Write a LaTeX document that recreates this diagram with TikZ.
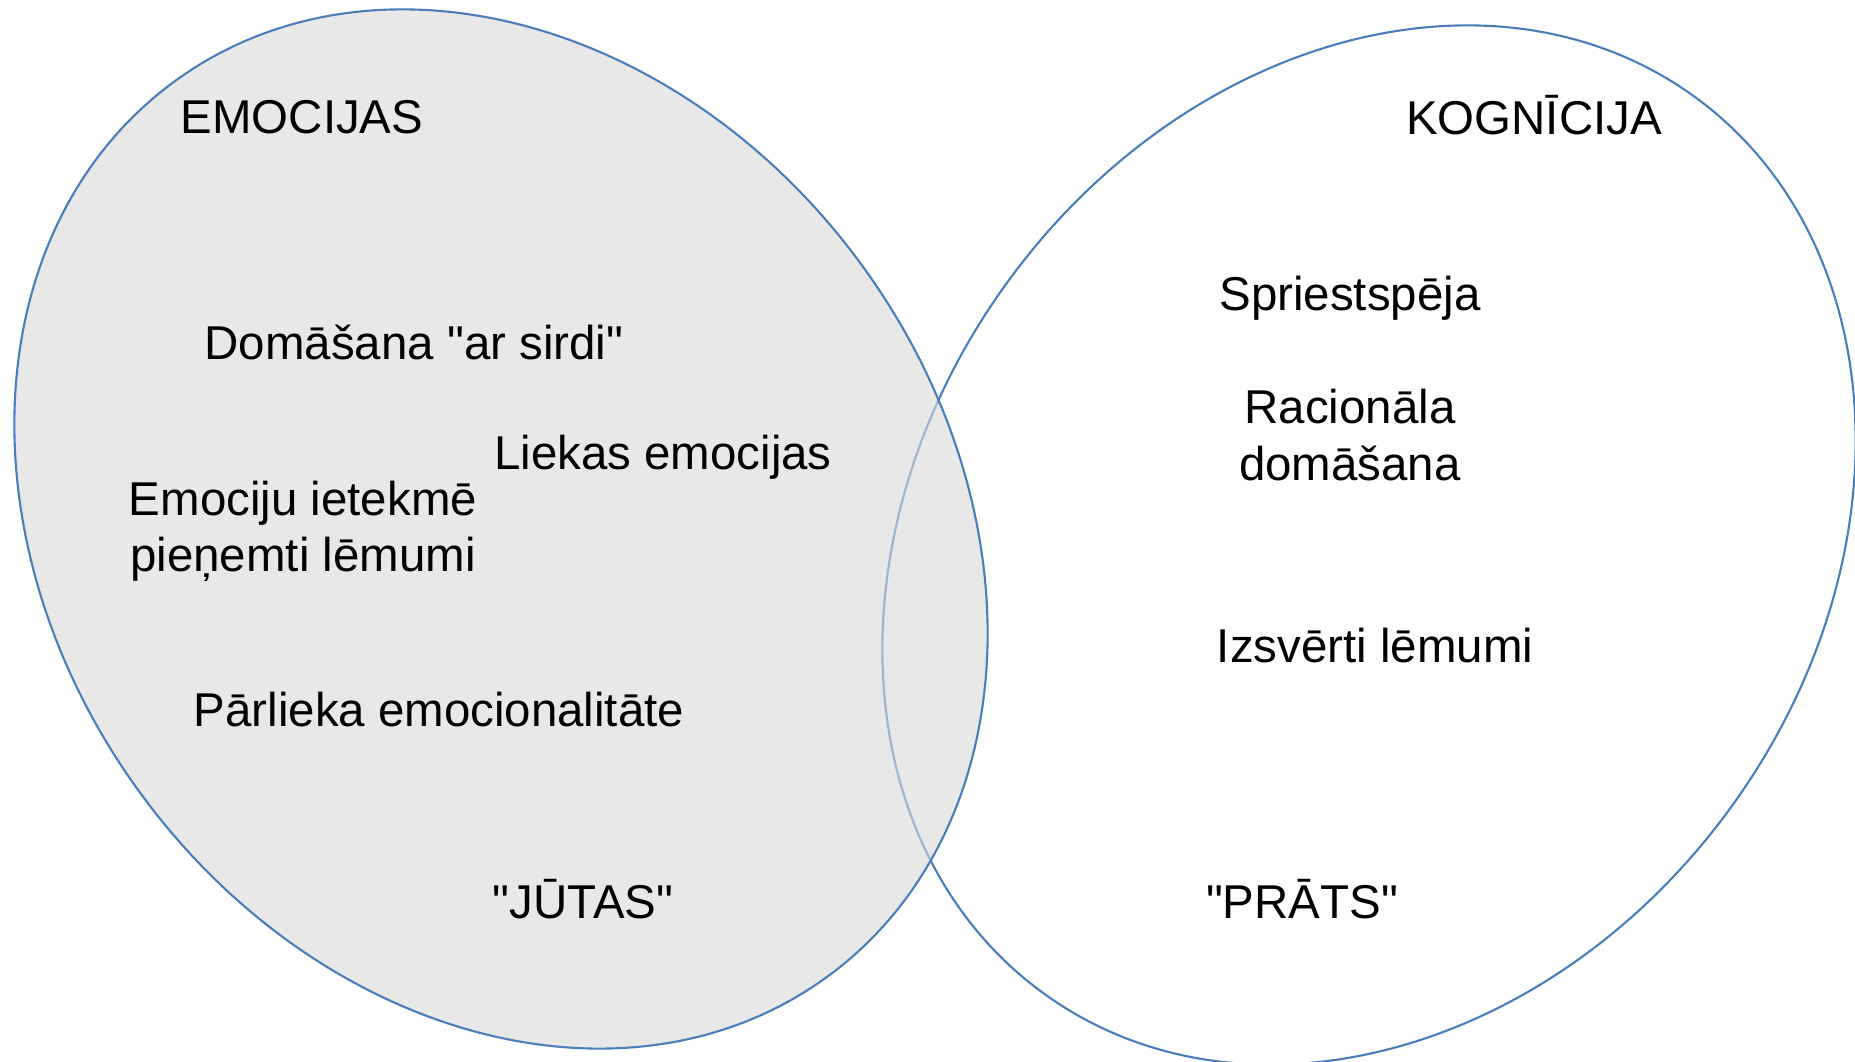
\documentclass[tikz,border=0pt]{standalone}
\usepackage{fontspec}
\setmainfont{Liberation Sans}[Ligatures=TeXOff]
\definecolor{bordo}{HTML}{4A7EBB}
\definecolor{grigio}{HTML}{D9D9D9}
\tikzset{
  voce/.style={font=\fontsize{13.5}{16}\selectfont, align=center, inner sep=0pt},
  insieme/.style={draw=bordo, line width=0.6pt}
}
\begin{document}
\begin{tikzpicture}
	\useasboundingbox (0,0) rectangle (18.55,10.62);
	\begin{scope}
	  \draw[insieme] (13.69,5.17) ellipse [x radius=5.54cm, y radius=4.47cm, rotate=54]; % prats
	  \filldraw[insieme, fill=grigio, fill opacity=0.6] (5.01,5.33) ellipse [x radius=5.54cm, y radius=4.47cm, rotate=-54]; % jutas
	\end{scope}

	% sinistra
	\node[voce] (emocijas) at (3.02,9.45) {EMOCIJAS};
	\node[voce] (sirds) at (4.14,7.20) {Domāšana "ar sirdi"};
	\node[voce] (liekas) at (6.63,6.05) {Liekas emocijas};
	\node[voce] (ietekme) at (3.03,5.31) {Emociju ietekmē\\pieņemti lēmumi};
	\node[voce] (parlieka) at (4.39,3.52) {Pārlieka emocionalitāte};
	\node[voce] (jutas) at (5.83,1.63) {"JŪTAS"};

	% destra
	\node[voce] (kognicija) at (15.34,9.47) {KOGNĪCIJA};
	\node[voce] (spriest) at (13.50,7.64) {Spriestspēja};
	\node[voce] (racionala) at (13.50,6.27) {Racionāla\\domāšana};
	\node[voce] (izsverti) at (13.75,4.16) {Izsvērti lēmumi};
	\node[voce] (prats) at (13.02,1.63) {"PRĀTS"};
\end{tikzpicture}
\end{document}
